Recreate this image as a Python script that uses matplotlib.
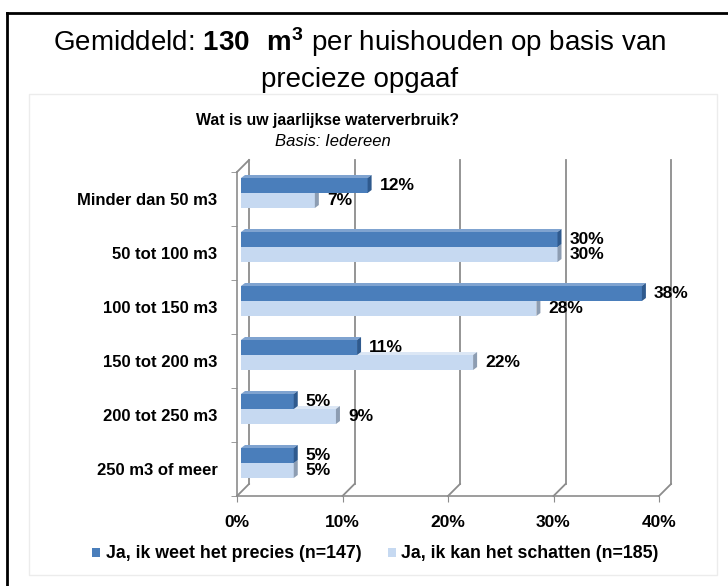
import matplotlib
matplotlib.use("Agg")
import matplotlib.pyplot as plt
from matplotlib import transforms
from matplotlib import font_manager as fm
from matplotlib.patches import Polygon, Rectangle

# gegevens uit de grafiek
categorieen = ["Minder dan 50 m3", "50 tot 100 m3", "100 tot 150 m3",
               "150 tot 200 m3", "200 tot 250 m3", "250 m3 of meer"]
precies = [12, 30, 38, 11, 5, 5]
schatten = [7, 30, 28, 22, 9, 5]
x_ticks = [0, 10, 20, 30, 40]
legenda = ["Ja, ik weet het precies (n=147)", "Ja, ik kan het schatten (n=185)"]

DONKER = "#4A7EBB"
DONKER_ZIJ = "#2F5A8E"
DONKER_TOP = "#7FA3D0"
LICHT = "#C6D9F1"
LICHT_ZIJ = "#8D9DB2"
LICHT_TOP = "#DCE7F5"
GRIJS = "#8C8C8C"

plt.rcParams["font.family"] = ["Liberation Sans", "DejaVu Sans"]
plt.rcParams["mathtext.fontset"] = "custom"
plt.rcParams["mathtext.rm"] = "Liberation Sans"
plt.rcParams["mathtext.bf"] = "Liberation Sans:bold"

namen = {f.name for f in fm.fontManager.ttflist}
smal = "Liberation Sans Narrow" in namen

W, H = 728, 586
fig = plt.figure(figsize=(W / 100, H / 100), dpi=100)


def fx(px):
    return px / W


def fy(py):
    return 1 - py / H


# kader
fig.add_artist(plt.Line2D([fx(7), fx(7)], [fy(13), 0], color="black", lw=2))
fig.add_artist(plt.Line2D([fx(7), 1], [fy(13), fy(13)], color="black", lw=2))
fig.add_artist(Rectangle((fx(29), fy(575)), fx(717) - fx(29), fy(94) - fy(575),
                         transform=fig.transFigure, fill=False, ec="#ececec", lw=1))

# titel
fig.text(fx(360), fy(51), r"Gemiddeld: $\mathbf{130\ \ m^3}$ per huishouden op basis van",
         ha="center", va="baseline", fontsize=20)
fig.text(fx(360), fy(87), "precieze opgaaf", ha="center", va="baseline", fontsize=20)

if smal:
    fig.text(fx(327), fy(121), "Wat is uw jaarlijkse waterverbruik?", ha="center", va="center",
             fontsize=13.5, fontweight="bold", family=["Liberation Sans Narrow", "Liberation Sans"])
    fig.text(fx(333), fy(141), "Basis: Iedereen", ha="center", va="center",
             fontsize=14, style="italic", family=["Liberation Sans Narrow", "Liberation Sans"])
else:
    fig.text(fx(327), fy(121), "Wat is uw jaarlijkse waterverbruik?", ha="center", va="center",
             fontsize=11.4, fontweight="bold")
    fig.text(fx(333), fy(141), "Basis: Iedereen", ha="center", va="center",
             fontsize=12, style="italic")

# assen
ax = fig.add_axes([fx(237), fy(496), (659 - 237) / W, (496 - 172) / H])
ax.set_xlim(0, 40)
ax.set_ylim(len(categorieen) - 0.5, -0.5)
ax.patch.set_alpha(0)
for s in ["top", "right"]:
    ax.spines[s].set_visible(False)
for s in ["left", "bottom"]:
    ax.spines[s].set_color(GRIJS)
    ax.spines[s].set_linewidth(1.2)

ax.set_xticks(x_ticks)
ax.set_xticklabels([f"{t}%" for t in x_ticks], fontsize=12.5, fontweight="bold")
ax.set_yticks(range(len(categorieen)))
ax.set_yticklabels(categorieen, fontsize=12, fontweight="bold")
ax.set_yticks([i - 0.5 for i in range(len(categorieen) + 1)], minor=True)
ax.tick_params(axis="x", length=4, color=GRIJS, pad=10)
ax.tick_params(axis="y", which="major", length=0, pad=14)
ax.tick_params(axis="y", which="minor", length=4, color=GRIJS)

# achterwand (3D-effect)
px_x = (659 - 237) / 40
px_y = (496 - 172) / len(categorieen)
DX = 12 / px_x
DY = 12 / px_y
onder = len(categorieen) - 0.5
for t in x_ticks:
    ax.plot([t, t + DX], [onder, onder - DY], color=GRIJS, lw=1.3, clip_on=False)
    ax.plot([t + DX, t + DX], [onder - DY, -0.5 - DY], color=GRIJS, lw=1.3, clip_on=False)
ax.plot([0, DX], [-0.5, -0.5 - DY], color=GRIJS, lw=1.3, clip_on=False)

# balken
bar_tr = transforms.offset_copy(ax.transData, fig=fig, x=4, y=6, units="dots")
hb = 15 / px_y
dt = 3 / px_y
ds = 4 / px_x


def balk(waarden, verschuiving, kleur, zij, top):
    ys = [i + verschuiving for i in range(len(waarden))]
    ax.barh(ys, waarden, height=hb, color=kleur, transform=bar_tr, clip_on=False, zorder=3)
    for y, v in zip(ys, waarden):
        yt, yb = y - hb / 2, y + hb / 2
        ax.add_patch(Polygon([(0, yt), (v, yt), (v + ds, yt - dt), (ds, yt - dt)],
                             closed=True, fc=top, ec="none", transform=bar_tr,
                             clip_on=False, zorder=3))
        ax.add_patch(Polygon([(v, yt), (v + ds, yt - dt), (v + ds, yb - dt), (v, yb)],
                             closed=True, fc=zij, ec="none", transform=bar_tr,
                             clip_on=False, zorder=3))
        ax.annotate(f"{v}%", xy=(v + ds, y), xycoords=bar_tr, xytext=(8, 0),
                    textcoords="offset pixels", ha="left", va="center",
                    fontsize=12.5, fontweight="bold", zorder=4)


balk(schatten, hb / 2, LICHT, LICHT_ZIJ, LICHT_TOP)
balk(precies, -hb / 2, DONKER, DONKER_ZIJ, DONKER_TOP)

# legenda
for (mx, tx), tekst, kleur in zip([(92, 106), (388, 401)], legenda, [DONKER, LICHT]):
    fig.add_artist(Rectangle((fx(mx), fy(557)), 8 / W, 9 / H, transform=fig.transFigure,
                             fc=kleur, ec="none"))
    fig.text(fx(tx), fy(553), tekst, ha="left", va="center", fontsize=12.8, fontweight="bold")

fig.savefig("out.png", dpi=100)
